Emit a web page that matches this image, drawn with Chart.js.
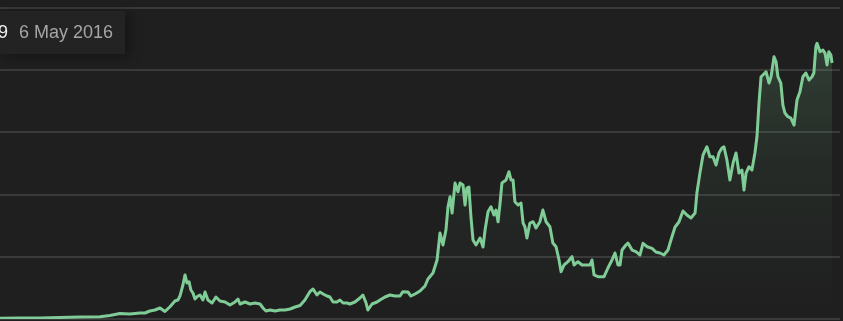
<!DOCTYPE html>
<html>
<head>
<meta charset="utf-8">
<script src="https://cdn.jsdelivr.net/npm/chart.js@4.4.1/dist/chart.umd.min.js"></script>
<style>
  html, body { margin: 0; padding: 0; background: #1f1f1f; overflow: hidden; }
  #wrap { position: relative; width: 843px; height: 321px; }
  #price { display: block; }
  .tip {
    position: absolute; left: 0; top: 11px; width: 125px; height: 43px;
    background: #232323; box-shadow: 4px 2px 12px rgba(0,0,0,0.35);
    font-family: "Liberation Sans", Arial, sans-serif; font-size: 18px;
  }
  .tip .val { position: absolute; right: 117px; top: 11px; color: #f2f2f2; white-space: nowrap; }
  .tip .when { position: absolute; left: 19px; top: 11px; color: #a6a6a6; white-space: nowrap; }
</style>
</head>
<body>
<div id="wrap">
  <canvas id="price" width="843" height="321"></canvas>
  <div class="tip"><span class="val">£319</span><span class="when">6 May 2016</span></div>
</div>
<script>
// BTC price (GBP)
const dates = [
  '2015-09-24','2015-12-21','2016-03-18','2016-06-14','2016-09-10','2016-12-07','2017-01-19','2017-03-04',
  '2017-04-17','2017-05-31','2017-06-22','2017-07-14','2017-08-05','2017-08-27','2017-09-18','2017-10-10',
  '2017-11-01','2017-11-14','2017-11-23','2017-12-06','2017-12-15','2017-12-24','2018-01-02','2018-01-10',
  '2018-01-19','2018-01-28','2018-02-10','2018-02-19','2018-03-04','2018-03-13','2018-03-26','2018-04-13',
  '2018-04-30','2018-05-18','2018-06-09','2018-07-01','2018-07-23','2018-08-05','2018-08-14','2018-09-05',
  '2018-09-27','2018-10-19','2018-11-10','2018-11-23','2018-12-06','2018-12-24','2019-01-15','2019-02-06',
  '2019-02-28','2019-03-22','2019-04-13','2019-05-05','2019-05-26','2019-06-17','2019-07-01','2019-07-18',
  '2019-07-31','2019-08-14','2019-08-31','2019-09-13','2019-09-27','2019-10-14','2019-10-27','2019-11-10',
  '2019-11-27','2019-12-10','2020-01-01','2020-01-23','2020-02-05','2020-02-19','2020-02-27','2020-03-16',
  '2020-04-07','2020-04-20','2020-05-12','2020-06-03','2020-06-25','2020-07-17','2020-07-30','2020-08-21',
  '2020-09-03','2020-09-21','2020-10-13','2020-11-04','2020-11-17','2020-12-09','2020-12-27','2021-01-09',
  '2021-01-22','2021-02-04','2021-02-13','2021-02-22','2021-03-03','2021-03-16','2021-03-29','2021-04-07',
  '2021-04-20','2021-04-29','2021-05-07','2021-05-16','2021-05-25','2021-06-03','2021-06-16','2021-07-04',
  '2021-07-17','2021-07-26','2021-08-08','2021-08-21','2021-09-03','2021-09-12','2021-09-21','2021-09-30',
  '2021-10-08','2021-10-26','2021-11-08','2021-11-17','2021-11-26','2021-12-04','2021-12-18','2021-12-31',
  '2022-01-09','2022-01-17','2022-01-26','2022-02-08','2022-02-22','2022-03-07','2022-03-24','2022-04-06',
  '2022-04-20','2022-05-07','2022-05-20','2022-06-03','2022-06-16','2022-06-25','2022-07-08','2022-07-25',
  '2022-08-12','2022-08-21','2022-09-07','2022-09-25','2022-10-12','2022-10-30','2022-11-08','2022-11-17',
  '2022-12-04','2022-12-31','2023-01-17','2023-02-04','2023-02-17','2023-03-02','2023-03-11','2023-03-20',
  '2023-04-06','2023-04-15','2023-05-03','2023-05-20','2023-06-07','2023-06-20','2023-07-08','2023-07-30',
  '2023-08-16','2023-09-03','2023-09-20','2023-10-08','2023-10-21','2023-11-08','2023-11-25','2023-12-13',
  '2023-12-30','2024-01-17','2024-02-04','2024-02-12','2024-02-26','2024-03-10','2024-03-27','2024-04-09',
  '2024-04-23','2024-05-06','2024-05-19','2024-06-01','2024-06-10','2024-06-23','2024-07-06','2024-07-20',
  '2024-08-02','2024-08-15','2024-08-28','2024-09-06','2024-09-15','2024-09-28','2024-10-11','2024-10-24',
  '2024-11-02','2024-11-11','2024-11-20','2024-11-28','2024-12-12','2024-12-25','2025-01-03','2025-01-16',
  '2025-01-25','2025-02-02','2025-02-15','2025-02-24','2025-03-05','2025-03-18','2025-03-31','2025-04-14',
  '2025-04-27','2025-05-10','2025-05-23','2025-06-05','2025-06-19','2025-07-02','2025-07-10','2025-07-19',
  '2025-07-24','2025-08-06','2025-08-19','2025-08-28','2025-09-06','2025-09-14','2025-09-23','2025-09-28'
];
const prices = [
  225, 320, 320, 480, 640, 740, 1130, 1770,
  1610, 1930, 1930, 2570, 2890, 3540, 2410, 3950,
  5790, 6110, 7390, 10930, 14150, 11570, 11990, 9320,
  8360, 6430, 7390, 7720, 6110, 8680, 6110, 5140,
  7070, 5790, 5470, 4500, 5470, 6430, 4820, 5470,
  4820, 5140, 4820, 3540, 2570, 2890, 2570, 2890,
  2890, 3220, 3860, 4340, 6110, 8780, 9650, 7720,
  8680, 8040, 7390, 7070, 5470, 5470, 6110, 5140,
  5140, 4820, 5470, 6750, 7720, 5140, 2890, 4820,
  5470, 6110, 7070, 7720, 7390, 7390, 8780, 8680,
  7390, 8040, 9000, 10610, 12860, 14790, 18970, 27650,
  23790, 28610, 36010, 39320, 34080, 43720, 40930, 43720,
  43080, 36650, 42100, 42440, 32790, 25400, 23790, 26040,
  23150, 28610, 34500, 36100, 33440, 35040, 31280, 37290,
  43720, 44690, 47360, 44690, 44690, 37710, 36650, 37290,
  30860, 29670, 26040, 30860, 31280, 29260, 31280, 35040,
  31280, 29670, 24430, 23240, 18970, 15210, 17360, 18420,
  20030, 17360, 18420, 17360, 17360, 17360, 18970, 14150,
  13600, 13600, 16400, 18970, 21220, 17360, 17360, 22180,
  23790, 24430, 22180, 21640, 20580, 24340, 23240, 22730,
  21540, 21220, 20580, 22180, 25400, 29580, 31190, 34720,
  33440, 32470, 34080, 40510, 47230, 52730, 55390, 52180,
  52180, 49510, 53370, 54980, 55390, 51120, 44690, 50150,
  53370, 46940, 47900, 41480, 46940, 48960, 47900, 53370,
  58610, 69440, 77900, 78450, 79510, 75870, 77900, 84330,
  82720, 77900, 75870, 68800, 66230, 65040, 64620, 62370,
  70410, 73080, 77900, 79090, 76840, 77900, 79090, 87540,
  88640, 85940, 86480, 85520, 81660, 85940, 84880, 82300
];
const rangeStart = '2015-09-24';
const rangeEnd = '2025-11-02';
const yTicks = [0, 20000, 40000, 60000, 80000, 100000];

const LINE = 'rgb(128, 204, 150)';

function areaFill(context) {
  const { chart } = context;
  const area = chart.chartArea;
  if (!area) return 'rgba(128, 204, 150, 0.1)';
  const g = chart.ctx.createLinearGradient(0, area.top, 0, area.bottom);
  g.addColorStop(0, 'rgba(128, 204, 150, 0.22)');
  g.addColorStop(0.5, 'rgba(128, 204, 150, 0.07)');
  g.addColorStop(1, 'rgba(128, 204, 150, 0)');
  return g;
}

const points = dates.map((d, i) => ({ x: Date.parse(d), y: prices[i] }));

new Chart(document.getElementById('price'), {
  type: 'line',
  data: {
    datasets: [{
      data: points,
      borderColor: LINE,
      borderWidth: 3,
      borderJoinStyle: 'round',
      pointRadius: 0,
      tension: 0,
      fill: 'origin',
      backgroundColor: areaFill
    }]
  },
  options: {
    responsive: false,
    animation: false,
    devicePixelRatio: 1,
    events: [],
    layout: { padding: { top: 8, bottom: 2, left: 0, right: 3 } },
    scales: {
      x: {
        type: 'linear',
        display: false,
        min: Date.parse(rangeStart),
        max: Date.parse(rangeEnd)
      },
      y: {
        min: yTicks[0],
        max: yTicks[yTicks.length - 1],
        afterBuildTicks: (axis) => { axis.ticks = yTicks.map(v => ({ value: v })) },
        ticks: { display: false },
        border: { display: false },
        grid: { color: '#3a3a3a', lineWidth: 2, drawTicks: false }
      }
    },
    plugins: {
      legend: { display: false },
      tooltip: { enabled: false }
    }
  }
});
</script>
</body>
</html>
